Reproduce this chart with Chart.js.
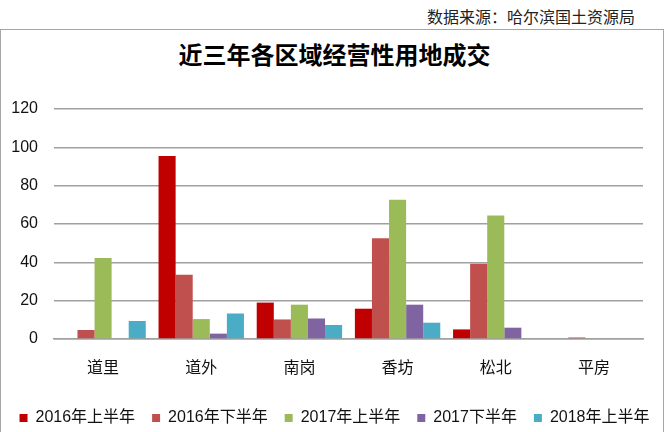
<!DOCTYPE html>
<html>
<head>
<meta charset="utf-8">
<script src="https://cdn.jsdelivr.net/npm/chart.js@4"></script>
<style>
  html, body { margin: 0; padding: 0; background: #fff; }
  #wrap { position: relative; width: 669px; height: 432px; overflow: hidden; }
  #source {
    position: absolute; right: 34px; top: 4px;
    font: 16px "Noto Sans CJK SC", sans-serif; color: #222;
  }
  #frame {
    position: absolute; left: 0; top: 29px; width: 664px; height: 420px;
    border: 1.5px solid #a6a6a6; box-sizing: border-box;
  }
  #title {
    position: absolute; left: 0; width: 669px; top: 36px; text-align: center;
    font: bold 24px "Noto Sans CJK SC", sans-serif; color: #000;
  }
  #chart { position: absolute; left: 0; top: 0; }
</style>
</head>
<body>
<div id="wrap">
  <div id="source">数据来源：哈尔滨国土资源局</div>
  <div id="frame"></div>
  <div id="title">近三年各区域经营性用地成交</div>
  <canvas id="chart" width="669" height="432"></canvas>
</div>
<script>
const districts = ['道里', '道外', '南岗', '香坊', '松北', '平房'];
const seriesNames = ['2016年上半年', '2016年下半年', '2017年上半年', '2017下半年', '2018年上半年'];
const colors = ['#c00000', '#c0504d', '#9bbb59', '#8064a2', '#4bacc6'];

const h1_2016 = [0, 95.5, 19, 15.8, 5, 0];
const h2_2016 = [4.7, 33.5, 10.2, 52.6, 39.2, 0.8];
const h1_2017 = [42.2, 10.4, 17.9, 72.7, 64.4, 0];
const h2_2017 = [0, 2.8, 10.7, 17.9, 5.9, 0];
const h1_2018 = [9.4, 13.3, 7.3, 8.5, 0, 0];
const yTicks = [0, 20, 40, 60, 80, 100, 120];

const values = [h1_2016, h2_2016, h1_2017, h2_2017, h1_2018];

const font = '"Liberation Sans", "Noto Sans CJK SC", sans-serif';

new Chart(document.getElementById('chart'), {
  type: 'bar',
  data: {
    labels: districts,
    datasets: seriesNames.map((name, i) => ({
      label: name,
      data: values[i],
      backgroundColor: colors[i],
      borderWidth: 0,
      categoryPercentage: 0.87,
      barPercentage: 1
    }))
  },
  options: {
    responsive: false,
    animation: false,
    layout: { padding: { left: 0, right: 0, top: 109, bottom: -4 } },
    plugins: {
      title: { display: false },
      tooltip: { enabled: false },
      legend: {
        position: 'bottom',
        labels: {
          boxWidth: 8, boxHeight: 8, padding: 17,
          color: '#111',
          font: { family: font, size: 16 }
        }
      }
    },
    scales: {
      x: {
        grid: { display: false },
        border: { display: true, color: '#a0a0a0', width: 1.5 },
        ticks: { color: '#111', padding: 10, font: { family: '"Noto Sans CJK SC", sans-serif', size: 16 } },
        afterFit: s => { s.height = 54; }
      },
      y: {
        min: 0, max: 120,
        afterBuildTicks: s => { s.ticks = yTicks.map(v => ({ value: v })); },
        grid: { color: '#a0a0a0', lineWidth: 1.5, drawTicks: false },
        border: { display: false },
        ticks: { color: '#111', padding: 16, font: { family: font, size: 16 } },
        afterFit: s => { s.width = 54; }
      },
      yRight: {
        position: 'right',
        grid: { display: false },
        border: { display: false },
        ticks: { display: false },
        afterFit: s => { s.width = 26; }
      }
    }
  }
});
</script>
</body>
</html>
